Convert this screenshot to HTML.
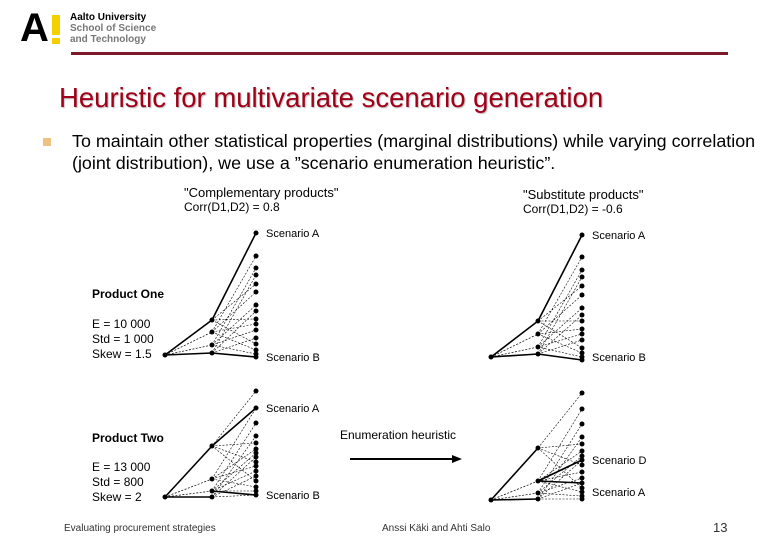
<!DOCTYPE html>
<html><head><meta charset="utf-8">
<style>
body{margin:0;width:780px;height:540px;background:#fff;position:relative;overflow:hidden;font-family:"Liberation Sans",Arial,sans-serif;}
.t{position:absolute;white-space:nowrap;}
</style></head><body>
<div class="t" style="left:20px;top:6px;font-size:40px;font-weight:bold;line-height:44px;">A</div>
<div style="position:absolute;left:52px;top:15px;width:8px;height:20px;background:#f5d000"></div>
<div style="position:absolute;left:52px;top:38px;width:8px;height:6px;background:#f5d000"></div>
<div class="t" style="left:70px;top:12px;font-size:10px;font-weight:bold;line-height:11px;">Aalto University<br><span style="color:#777">School of Science<br>and Technology</span></div>
<div style="position:absolute;left:71px;top:52px;width:657px;height:3px;background:#7a1a2a"></div>
<div class="t" style="left:59px;top:82px;font-size:27.5px;color:#a00018;text-shadow:1px 1px 1px #bbb">Heuristic for multivariate scenario generation</div>
<div style="position:absolute;left:43px;top:138px;width:8px;height:8px;background:#f0c080"></div>
<div class="t" style="left:72px;top:130px;font-size:17.9px;line-height:22px;">To maintain other statistical properties (marginal distributions) while varying correlation<br>(joint distribution), we use a ”scenario enumeration heuristic”.</div>
<svg width="780" height="540" style="position:absolute;left:0;top:0" id="s" font-family="Liberation Sans, Arial, sans-serif" font-size="11">
<text x="184" y="197" font-size="13">"Complementary products"</text>
<text x="184" y="211" font-size="12">Corr(D1,D2) = 0.8</text>
<text x="523" y="199" font-size="13">"Substitute  products"</text>
<text x="523" y="213" font-size="12">Corr(D1,D2) = -0.6</text>
<text x="92" y="298" font-size="12" font-weight="bold">Product One</text>
<text x="92" y="328" font-size="12">E = 10 000</text>
<text x="92" y="343" font-size="12">Std = 1 000</text>
<text x="92" y="358" font-size="12">Skew = 1.5</text>
<text x="92" y="442" font-size="12" font-weight="bold">Product Two</text>
<text x="92" y="471" font-size="12">E = 13 000</text>
<text x="92" y="486" font-size="12">Std = 800</text>
<text x="92" y="501" font-size="12">Skew = 2</text>
<text x="340" y="439" font-size="12">Enumeration heuristic</text>
<line x1="350" y1="459" x2="455" y2="459" stroke="#000" stroke-width="2"/>
<polygon points="462,459 452,455 452,463" fill="#000"/>
<g id="trees"></g>
</svg>
<div class="t" style="left:64px;top:523px;font-size:10px;color:#333">Evaluating procurement strategies</div>
<div class="t" style="left:382px;top:523px;font-size:10px;color:#333">Anssi Käki and Ahti Salo</div>
<div class="t" style="left:713px;top:520px;font-size:13px;color:#333">13</div>
<script>
const t1Mid=[320,332,345,353];
const t1Leaf=[233,256,268,275,284,292,305,311,319,324,330,338,344,350,354,357];
const t2Mid=[321,334,347,354];
const t2Leaf=[235,257,270,277,286,295,308,315,321,329,334,340,348,353,357,360];
const t3Mid=[446,479,491,497];
const t3Leaf=[391,408,423,436,443,449,453,457,462,466,471,476,481,487,491,495];
const t4Mid=[448,481,493,499];
const t4Leaf=[393,409,424,437,444,451,456,460,465,472,478,483,488,492,496,499];
const trees=[
 {x:165,root:355,mid:t1Mid,leaf:t1Leaf,labels:[["Scenario A",0],["Scenario B",15]],thick:[[0,0],[3,15]]},
 {x:491,root:357,mid:t2Mid,leaf:t2Leaf,labels:[["Scenario A",0],["Scenario B",14]],thick:[[0,0],[3,15]]},
 {x:165,root:497,mid:t3Mid,leaf:t3Leaf,labels:[["Scenario A",1],["Scenario B",15]],thick:[[0,1],[2,15]]},
 {x:491,root:500,mid:t4Mid,leaf:t4Leaf,labels:[["Scenario D",7],["Scenario A",13]],thick:[[1,7],[1,11]]}
];
const g=document.getElementById('trees');const NS='http://www.w3.org/2000/svg';
function mk(tag,a){const e=document.createElementNS(NS,tag);for(const k in a)e.setAttribute(k,a[k]);g.appendChild(e);return e;}
trees.forEach((T,ti)=>{
 const mx=T.x+47,lx=T.x+91;
 T.mid.forEach((m,i)=>{
  const e=mk('line',{x1:T.x,y1:T.root,x2:mx,y2:m,stroke:'#000','stroke-width':i==0||i==3?1.6:0.7,'stroke-dasharray':i==0||i==3?'':'2,1.5'});
  
  
  for(let j=0;j<4;j++){
   const li=(j*4+i)%16;
   const l=mk('line',{x1:mx,y1:m,x2:lx,y2:T.leaf[li],stroke:'#000','stroke-width':0.6,'stroke-dasharray':'2,1.5'});
   
   
  }
 });
 T.thick.forEach(([mi,li])=>{
  const l=mk('line',{x1:mx,y1:T.mid[mi],x2:lx,y2:T.leaf[li],stroke:'#000','stroke-width':1.6});
  
  
 });
 const r=mk('circle',{cx:T.x,cy:T.root,r:2.5});
 
 
 T.mid.forEach(m=>{const c=mk('circle',{cx:mx,cy:m,r:2.5});
  
  });
 T.leaf.forEach(v=>{const c=mk('circle',{cx:lx,cy:v,r:2.5});
  
  });
 T.labels.forEach(([s,i])=>{const tx=mk('text',{x:lx+10,y:T.leaf[i]+4,'font-size':11});tx.textContent=s;
  
  });
});
</script>
</body></html>
